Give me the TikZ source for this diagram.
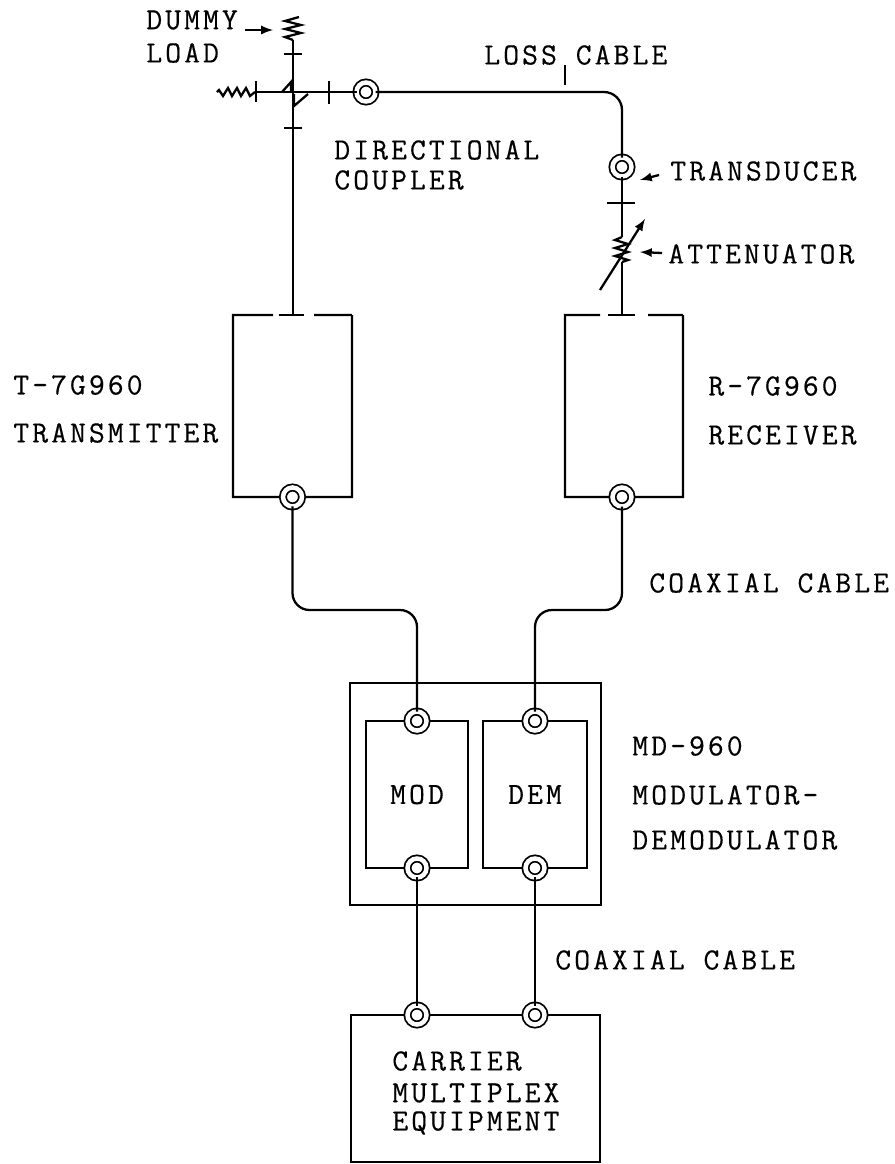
\documentclass[tikz,border=0pt]{standalone}
\usepackage{fontspec}
\setmonofont[LetterSpace=10,FakeBold=0.4]{Latin Modern Mono}
\usepackage{tikz}
\tikzset{
  wire/.style={line width=1.3pt, black},
  tick/.style={line width=1pt, black},
  pointer/.style={-latex, line width=1.3pt, black},
  coax/.style={circle, draw=black, double, double distance=0.09cm, line width=1pt, fill=white, minimum size=0.38cm, inner sep=0pt, outer sep=0pt},
  box/.style={rectangle, draw=black, line width=1.3pt, inner sep=0pt, outer sep=0pt},
  hollow/.style={rectangle, inner sep=0pt, outer sep=0pt},
  lbl/.style={anchor=west, inner sep=0pt, font=\fontsize{17.5}{20}\selectfont\ttfamily},
  mid/.style={font=\fontsize{17.5}{20}\selectfont\ttfamily}
}

\begin{document}
\begin{tikzpicture}[x=0.02cm, y=-0.02cm]
\useasboundingbox (0,0) rectangle (894,1164);

% Transmitter and receiver, top edges broken
\node[hollow, minimum width=2.38cm, minimum height=3.64cm] (tx) at (292.5,406) {};
\node[hollow, minimum width=2.36cm, minimum height=3.64cm] (rx) at (624,406) {};
\draw[wire] (tx.north east) -- (tx.south east) -- (tx.south west) -- (tx.north west) -- (273,315);
\draw[wire] (279,315) -- (304,315);
\draw[wire] (314,315) -- (tx.north east);
\draw[wire] (rx.north east) -- (rx.south east) -- (rx.south west) -- (rx.north west) -- (600,315);
\draw[wire] (608,315) -- (635,315);
\draw[wire] (648,315) -- (rx.north east);

% Other boxes
\node[box, minimum width=5.02cm, minimum height=4.44cm] (md) at (475.5,794) {};
\node[box, mid, minimum width=2.04cm, minimum height=2.94cm] (mod) at (417,794.5) {MOD};
\node[box, mid, minimum width=2.08cm, minimum height=2.94cm] (dem) at (535,794.5) {DEM};
\node[box, minimum width=4.98cm, minimum height=2.94cm] (mux) at (475.5,1088.5) {};

% Connectors on the boxes
\node[coax] (txout) at (tx.south) {};
\node[coax] (rxout) at (622,497) {};
\node[coax] (modin) at (mod.north) {};
\node[coax] (demin) at (dem.north) {};
\node[coax] (modout) at (mod.south) {};
\node[coax] (demout) at (dem.south) {};
\node[coax] (muxa) at (417,1015) {};
\node[coax] (muxb) at (535,1015) {};

% Coupler and transducer
\node[coax] (coupler) at (366,92) {};
\node[coax] (trans) at (622,167) {};
\coordinate (loadtop) at (293,40);
\coordinate (loadleft) at (255,92);
\coordinate (attop) at (622,237);
\coordinate (atbot) at (622,262);
\coordinate (txtop) at (293,315);
\coordinate (rxtop) at (622,315);

% Top wiring
\draw[wire] (loadtop) -- (txtop);
\draw[wire] (loadleft) -- (coupler);
\draw[wire, rounded corners=0.36cm] (coupler) -| (trans);
\draw[wire] (trans) -- (attop);
\draw[wire] (atbot) -- (rxtop);

% Dummy loads
\draw[wire] (loadtop) -- ++(-8,-3) -- ++(16,-4) -- ++(-16,-4) -- ++(16,-4) -- ++(-16,-4) -- ++(14,-4);
\draw[wire] (loadleft) -- ++(-5,4) -- ++(-4,-8) -- ++(-5,8) -- ++(-4,-8) -- ++(-5,8) -- ++(-4,-8) -- ++(-5,8) -- ++(-4,-6) -- ++(-2,2);

% Attenuator
\draw[wire] (attop) -- ++(-7,3) -- ++(13,4) -- ++(-13,4) -- ++(13,4) -- ++(-13,4) -- ++(13,4) -- ++(-6,2);
\draw[pointer] (600,290) -- (645,219);

% Ticks
\draw[tick] (284,54) -- (302,54);
\draw[tick] (284,128) -- (302,128);
\draw[tick] (256,81) -- (256,102);
\draw[tick] (329,81) -- (329,104);
\draw[tick] (607,203) -- (635,203);
\draw[tick] (565,65) -- (565,85);

% Coupler arms
\draw[wire] (282,92) -- (291,82) -- (291,92);
\draw[wire] (308,94) -- (294,106) -- (294,94);

% Cables
\coordinate (txbend) at (350,610);
\coordinate (rxbend) at (580,610);
\draw[wire, rounded corners=0.34cm] (txout) |- (txbend) -| (modin);
\draw[wire, rounded corners=0.34cm] (rxout) |- (rxbend) -| (demin);
\draw[wire] (modout) -- (muxa);
\draw[wire] (demout) -- (muxb);

% Pointers
\draw[pointer] (245,30) -- (273,30);
\draw[pointer] (659,175) -- (640,180);
\draw[pointer] (662,253) -- (640,252);

% Labels
\node[lbl] (dummy) at (146,20) {DUMMY};
\node[lbl] (load) at (146,53) {LOAD};
\node[lbl] (loss) at (484,55) {LOSS CABLE};
\node[lbl] (dir) at (334,150) {DIRECTIONAL};
\node[lbl] (coup) at (334,180) {COUPLER};
\node[lbl] (tdlabel) at (670,171) {TRANSDUCER};
\node[lbl] (attlabel) at (668,254) {ATTENUATOR};
\node[lbl] (txa) at (13,385) {T-7G960};
\node[lbl] (txb) at (13,433) {TRANSMITTER};
\node[lbl] (rxa) at (708,386) {R-7G960};
\node[lbl] (rxb) at (708,435) {RECEIVER};
\node[lbl] (coaxa) at (649,583) {COAXIAL CABLE};
\node[lbl] (mda) at (632,746) {MD-960};
\node[lbl] (mdb) at (632,795) {MODULATOR-};
\node[lbl] (mdc) at (632,840) {DEMODULATOR};
\node[lbl] (coaxb) at (555,960) {COAXIAL CABLE};
\node[lbl] (muxl1) at (392,1061) {CARRIER};
\node[lbl] (muxl2) at (392,1093) {MULTIPLEX};
\node[lbl] (muxl3) at (392,1123) {EQUIPMENT};

\end{tikzpicture}
\end{document}
